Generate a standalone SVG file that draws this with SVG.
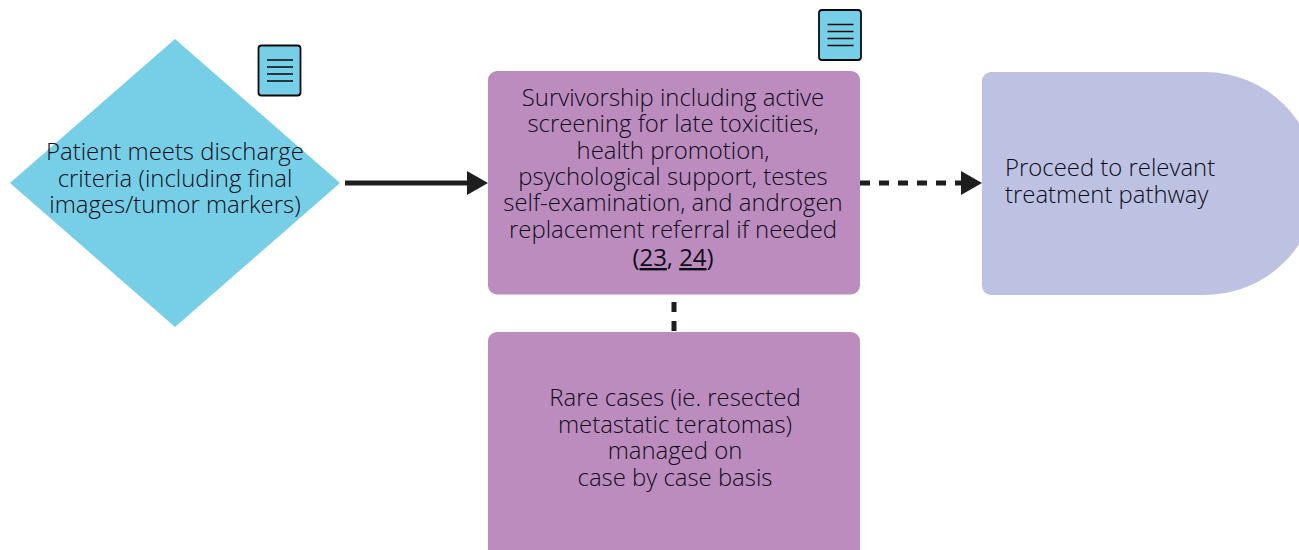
<svg xmlns="http://www.w3.org/2000/svg" width="1299" height="550" viewBox="0 0 1299 550">
<defs>
<marker id="arrow" markerUnits="userSpaceOnUse" markerWidth="22" markerHeight="24" refX="16" refY="12" orient="auto"><path d="M0,0 L21,12 L0,24 Z" fill="#1e1e1e"/></marker>
<g id="doc"><rect x="0.5" y="0.5" width="42" height="50" rx="3" fill="#76cfe6" stroke="#0a0a0a" stroke-width="1.8"/><path d="M9,15H35M9,22H35M9,29H35M9,36H35" stroke="#0a0a0a" stroke-width="1.5" fill="none"/></g>
</defs>
<style>
text{font-family:"Open Sans","Noto Sans",sans-serif;font-weight:300;font-size:23.9px;fill:#0c0c18;text-anchor:middle}
.c{fill:none;stroke:#1e1e1e;stroke-width:5}
.p{fill:#bd8cbf}
</style>
<rect width="1299" height="550" fill="#fff"/>
<g id="connectors">
<path class="c" d="M345,183H483" marker-end="url(#arrow)"/>
<path class="c" d="M860,183H977" stroke-dasharray="10 9" marker-end="url(#arrow)"/>
<path class="c" d="M674,302V332" stroke-dasharray="10 9"/>
</g>
<g id="discharge">
<path d="M175,39L340,183L175,327L10,183Z" fill="#76cfe6"/>
<text x="175" y="160">Patient meets discharge</text>
<text x="175" y="187">criteria (including final</text>
<text x="175" y="213">images/tumor markers)</text>
</g>
<g id="doc1"><use href="#doc" x="258" y="45"/></g>
<g id="doc2"><use href="#doc" x="818.500" y="9.500"/></g>
<g id="survivorship">
<rect class="p" x="488" y="71" width="372" height="223.500" rx="9"/>
<text x="673" y="106">Survivorship including active</text>
<text x="673" y="132">screening for late toxicities,</text>
<text x="673" y="159">health promotion,</text>
<text x="673" y="185">psychological support, testes</text>
<text x="673" y="211">self-examination, and androgen</text>
<text x="673" y="238">replacement referral if needed</text>
<text x="673" y="266" style="font-weight:400">(<tspan text-decoration="underline">23</tspan>, <tspan text-decoration="underline">24</tspan>)</text>
</g>
<g id="pathway">
<path d="M991,72H1205A112,111.500 0 0 1 1205,295H991A9,9 0 0 1 982,286V81A9,9 0 0 1 991,72Z" fill="#bec2e2"/>
<text x="1005" y="176" style="text-anchor:start">Proceed to relevant</text>
<text x="1005" y="203" style="text-anchor:start">treatment pathway</text>
</g>
<g id="rare">
<path class="p" d="M497,332H851A9,9 0 0 1 860,341V550H488V341A9,9 0 0 1 497,332Z"/>
<text x="675" y="406">Rare cases (ie. resected</text>
<text x="675" y="433">metastatic teratomas)</text>
<text x="675" y="459">managed on</text>
<text x="675" y="486">case by case basis</text>
</g>
</svg>
